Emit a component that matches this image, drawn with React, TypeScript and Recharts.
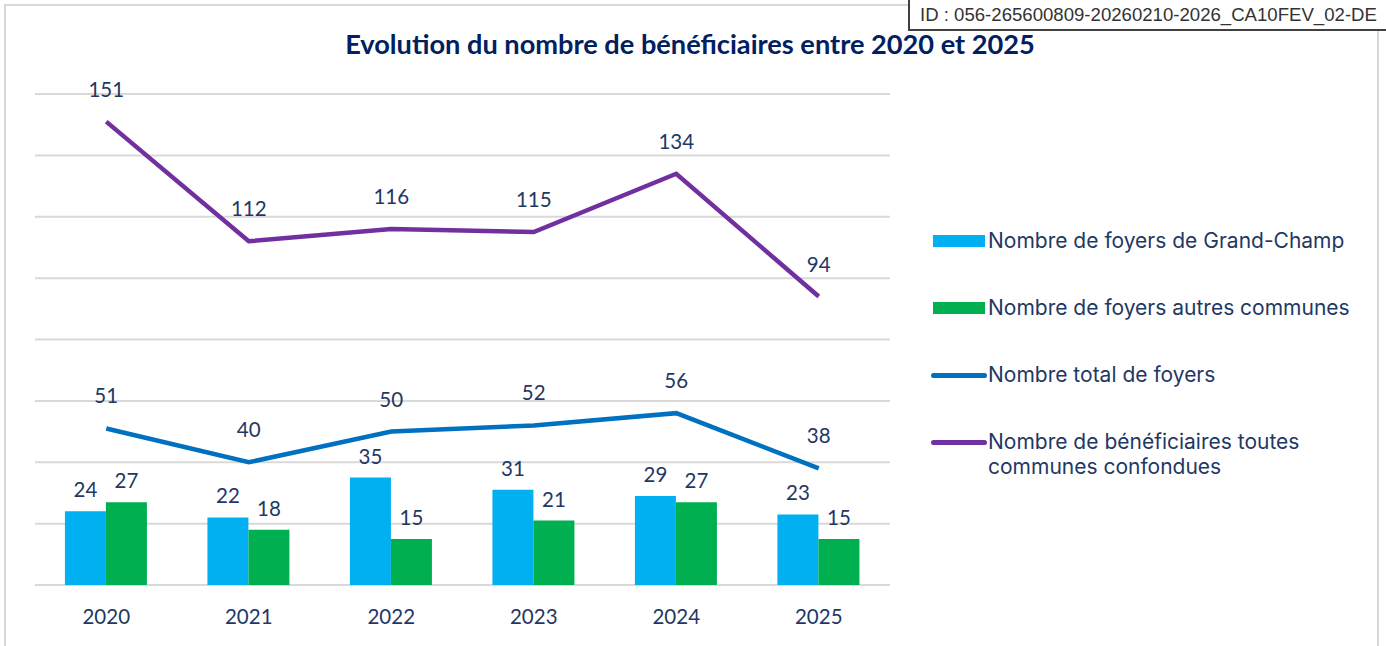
import {
    ComposedChart,
    Bar,
    Line,
    XAxis,
    YAxis,
    CartesianGrid,
    LabelList
} from "recharts";

const years = ["2020", "2021", "2022", "2023", "2024", "2025"];
const foyersGrandChamp = [24, 22, 35, 31, 29, 23];
const foyersAutres = [27, 18, 15, 21, 27, 15];
const foyersTotal = [51, 40, 50, 52, 56, 38];
const beneficiaires = [151, 112, 116, 115, 134, 94];
const yTicks = [0, 20, 40, 60, 80, 100, 120, 140, 160];

const NAVY = "#1F3864";
const LABEL_FONT = "Lato, 'Open Sans', sans-serif";
const LEGEND_FONT = "Inter, Roboto, sans-serif";

const data = years.map((year, i) => ({
    year,
    grandChamp: foyersGrandChamp[i],
    autres: foyersAutres[i],
    total: foyersTotal[i],
    benef: beneficiaires[i]
}));

const legendItems = [
    { label: "Nombre de foyers de Grand-Champ", color: "#00B0F0", type: "bar" },
    { label: "Nombre de foyers autres communes", color: "#00B050", type: "bar" },
    { label: "Nombre total de foyers", color: "#0070C0", type: "line" },
    { label: "Nombre de bénéficiaires toutes\ncommunes confondues", color: "#7030A0", type: "line" }
];

const LineLabel = (props: any) => {
    const { x, y, value } = props;
    return (
        <text
            x={x}
            y={y - 33}
            textAnchor="middle"
            dominantBaseline="central"
            fill={NAVY}
            fontSize={20.5}
            fontFamily={LABEL_FONT}
        >
            {value}
        </text>
    );
};

const ChartLegend = () => (
    <div
        style={{
            position: "absolute",
            left: 929,
            top: 229,
            fontFamily: LEGEND_FONT,
            color: NAVY,
            fontSize: 21
        }}
    >
        {legendItems.map((item) => (
            <div
                key={item.label}
                style={{ display: "flex", alignItems: "flex-start", height: 67 }}
            >
                <div style={{ width: 59, height: 24, display: "flex", alignItems: "center", justifyContent: "center" }}>
                    {item.type === "bar" ? (
                        <div style={{ width: 52, height: 12, background: item.color }} />
                    ) : (
                        <div style={{ width: 56, height: 5, borderRadius: 3, background: item.color }} />
                    )}
                </div>
                <div style={{ whiteSpace: "pre", lineHeight: "25px", marginTop: -1 }}>{item.label}</div>
            </div>
        ))}
    </div>
);

export default function App() {
    return (
        <div style={{ position: "absolute", left: 0, top: 0, width: 1386, height: 646, background: "#fff", overflow: "hidden" }}>
            <div
                style={{
                    position: "absolute",
                    left: 4,
                    top: 4,
                    width: 1375,
                    height: 660,
                    border: "2px solid #D9D9D9",
                    boxSizing: "border-box"
                }}
            />
            <div
                style={{
                    position: "absolute",
                    left: 0,
                    top: 28,
                    width: 1380,
                    textAlign: "center",
                    fontFamily: LABEL_FONT,
                    fontWeight: 700,
                    fontSize: 27.2,
                    color: "#002060",
                    lineHeight: "32px"
                }}
            >
                Evolution du nombre de bénéficiaires entre 2020 et 2025
            </div>
            <ComposedChart
                width={1386}
                height={646}
                data={data}
                margin={{ top: 94, right: 496, left: 35, bottom: 0 }}
                barCategoryGap="21%"
                barGap={0}
                style={{ position: "absolute", left: 0, top: 0 }}
            >
                <CartesianGrid vertical={false} stroke="#D9D9D9" strokeWidth={2} />
                <XAxis
                    dataKey="year"
                    height={61}
                    axisLine={false}
                    tickLine={false}
                    tickMargin={18}
                    tick={{ fill: NAVY, fontSize: 20.5, fontFamily: LABEL_FONT }}
                />
                <YAxis hide domain={[0, 160]} ticks={yTicks} />
                <Bar dataKey="grandChamp" fill="#00B0F0" isAnimationActive={false}>
                    <LabelList
                        dataKey="grandChamp"
                        position="top"
                        offset={14}
                        fill={NAVY}
                        fontSize={20.5}
                        fontFamily={LABEL_FONT}
                    />
                </Bar>
                <Bar dataKey="autres" fill="#00B050" isAnimationActive={false}>
                    <LabelList
                        dataKey="autres"
                        position="top"
                        offset={14}
                        fill={NAVY}
                        fontSize={20.5}
                        fontFamily={LABEL_FONT}
                    />
                </Bar>
                <Line
                    dataKey="total"
                    stroke="#0070C0"
                    strokeWidth={4.5}
                    dot={false}
                    activeDot={false}
                    isAnimationActive={false}
                >
                    <LabelList dataKey="total" content={<LineLabel />} />
                </Line>
                <Line
                    dataKey="benef"
                    stroke="#7030A0"
                    strokeWidth={4.5}
                    dot={false}
                    activeDot={false}
                    isAnimationActive={false}
                >
                    <LabelList dataKey="benef" content={<LineLabel />} />
                </Line>
            </ComposedChart>
            <ChartLegend />
            <div
                style={{
                    position: "absolute",
                    left: 908,
                    top: 0,
                    width: 490,
                    height: 31,
                    background: "#fff",
                    borderLeft: "2px solid #404040",
                    borderBottom: "2px solid #404040",
                    boxSizing: "border-box",
                    fontFamily: "'Liberation Sans', Arial, sans-serif",
                    fontSize: 18.6,
                    color: "#333",
                    paddingLeft: 10,
                    lineHeight: "29px",
                    whiteSpace: "nowrap"
                }}
            >
                ID : 056-265600809-20260210-2026_CA10FEV_02-DE
            </div>
        </div>
    );
}
